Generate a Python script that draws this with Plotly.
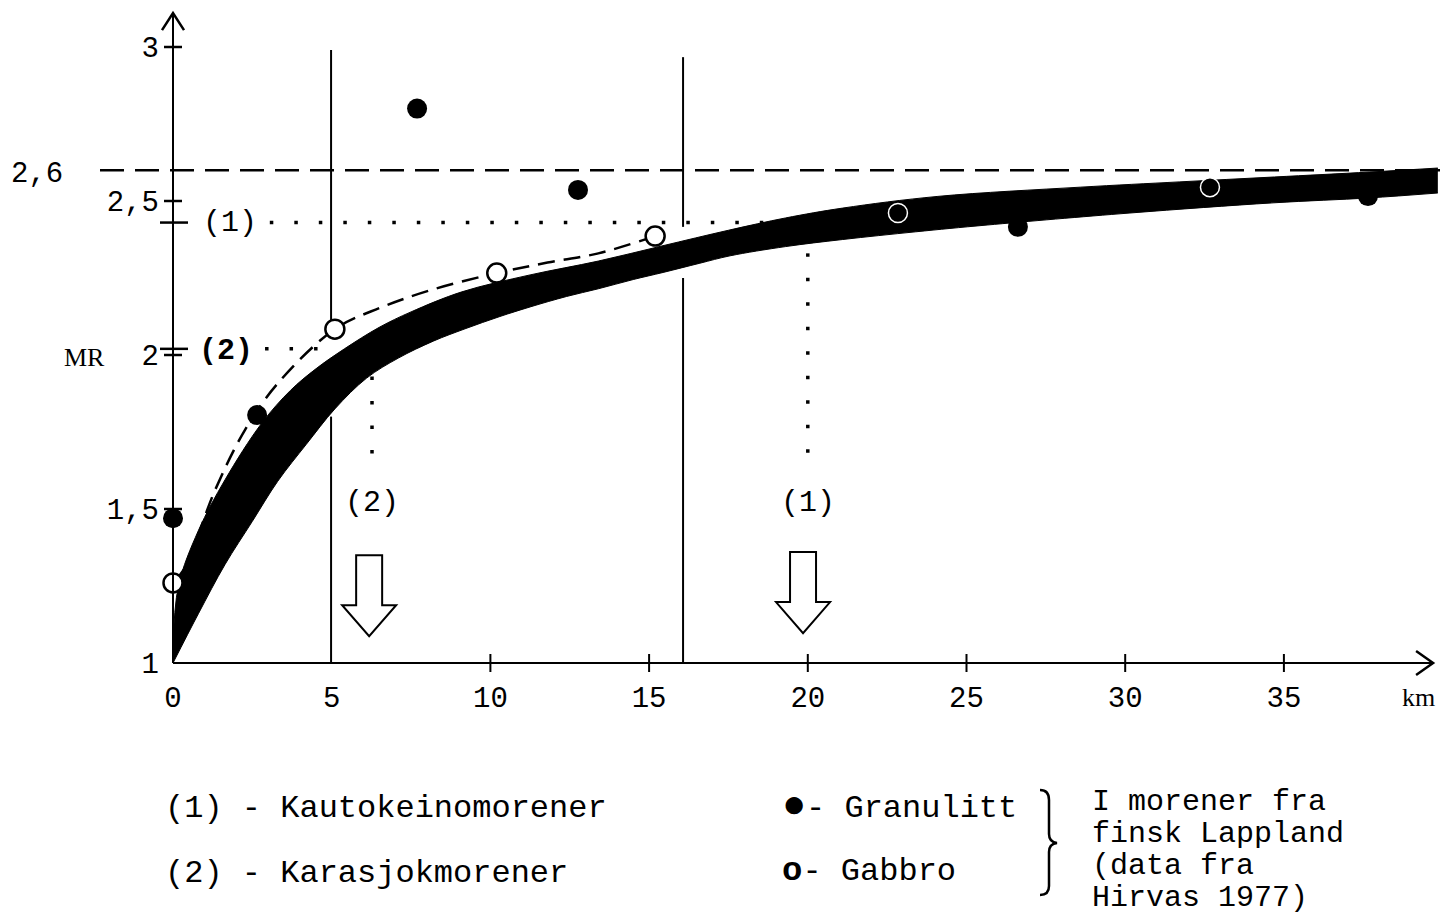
import numpy as np
import plotly.graph_objects as go

# ---------------- data ----------------
GRAN_X = [0.0, 2.65, 7.69, 12.76, 26.62, 37.65]
GRAN_Y = [1.47, 1.805, 2.80, 2.536, 2.416, 2.516]

GABB_X = [0.0, 5.10, 10.20, 15.19, 22.84, 32.67]
GABB_Y = [1.26, 2.084, 2.266, 2.386, 2.461, 2.545]

BAND_UPPER_X = [0, 0.17, 0.8, 1.64, 2.79, 3.7, 4.5, 5.4, 6.5, 7.5, 9.1, 11.25, 13.4,
                15.4, 17.5, 19.3, 21.1, 24.1, 28.6, 31.7, 34.7, 37.7, 39.85]
BAND_UPPER_Y = [1.04, 1.25, 1.43, 1.595, 1.778, 1.885, 1.955, 2.02, 2.09, 2.14, 2.205,
                2.26, 2.305, 2.354, 2.405, 2.445, 2.477, 2.515, 2.545, 2.562, 2.578,
                2.594, 2.607]
BAND_LOWER_X = [0, 0.8, 1.64, 2.5, 3.3, 4.2, 5.1, 6.1, 7.1, 8.2, 9.2, 10.3, 11.25, 12.4,
                13.4, 14.5, 15.44, 16.6, 17.55, 19.3, 21.1, 23.4, 25.65, 30.15, 34.66,
                37.68, 39.85]
BAND_LOWER_Y = [1.0, 1.16, 1.32, 1.46, 1.59, 1.71, 1.825, 1.925, 1.99, 2.045, 2.085,
                2.125, 2.156, 2.19, 2.215, 2.245, 2.268, 2.298, 2.322, 2.352, 2.375,
                2.40, 2.422, 2.461, 2.494, 2.510, 2.526]

DASH_X = [0.0, 0.38, 1.32, 2.27, 3.31, 5.10, 6.52, 8.1, 10.2, 11.8, 13.4, 15.19]
DASH_Y = [1.26, 1.31, 1.56, 1.757, 1.909, 2.084, 2.153, 2.21, 2.266, 2.30, 2.33, 2.386]

X_TICKS = [0, 5, 10, 15, 20, 25, 30, 35]
X_TICK_TEXT = ["0", "5", "10", "15", "20", "25", "30", "35"]
X_TICK_MARKS = [10, 15, 20, 25, 30, 35]
Y_TICKS = [1, 1.5, 2, 2.5, 3]
Y_TICK_TEXT = ["1", "1,5", "2", "2,5", "3"]
Y_TICK_MARKS = [1.5, 2.0, 2.5, 3.0]

LEVEL_MAX = 2.6          # dashed asymptote
LEVEL_1 = 2.43           # (1) Kautokeinomorener
LEVEL_2 = 2.02           # (2) Karasjokmorener
DIST_1 = 20.0            # km where (1) is reached
DIST_2 = 6.27            # km where (2) is reached
BOUNDARY_X = [4.98, 16.07]
BOUNDARY_SEGMENTS = [[(2.99, 2.11), (1.80, 1.0)], [(2.967, 2.416), (2.25, 1.0)]]
ARROW_X = [6.18, 19.85]
ARROW_TOP = [1.35, 1.36]
X_END, Y_END = 39.7, 3.11

LEGEND_LEFT = ["(1) - Kautokeinomorener", "(2) - Karasjokmorener"]
LEGEND_NOTE = ["I morener fra", "finsk Lappland", "(data fra", "Hirvas 1977)"]

# ---------------- geometry of the page ----------------
W, H, OFF = 1449, 915, 0
X0PX, KM_PX = 173, 31.74
Y1PX, MR_PX = 663, 308.0
xr0 = -(X0PX - OFF) / KM_PX
xr = [xr0, xr0 + W / KM_PX]
ytop = 1 + (Y1PX - OFF) / MR_PX
yr = [ytop - H / MR_PX, ytop]


def dx(px):
    return (px - X0PX) / KM_PX


def dy(py):
    return 1 + (Y1PX - py) / MR_PX


def sx(p):
    return p / KM_PX


def sy(p):
    return p / MR_PX


MONO = "Liberation Mono"
SERIF = "Liberation Serif"

fig = go.Figure()

# band: lower edge, then upper edge filled down to it (square ends)
fig.add_trace(go.Scatter(x=BAND_LOWER_X, y=BAND_LOWER_Y, mode="lines",
                         line=dict(color="black", width=1, shape="spline", smoothing=1.0),
                         hoverinfo="skip", showlegend=False))
fig.add_trace(go.Scatter(x=BAND_UPPER_X, y=BAND_UPPER_Y, mode="lines", fill="tonexty",
                         fillcolor="black",
                         line=dict(color="black", width=1, shape="spline", smoothing=1.0),
                         hoverinfo="skip", showlegend=False))

# dashed curve through gabbro points
fig.add_trace(go.Scatter(x=DASH_X, y=DASH_Y, mode="lines",
                         line=dict(color="black", width=2.5, dash="17px,9px", shape="spline"),
                         hoverinfo="skip", showlegend=False))

# gabbro: open circles; those lying inside the band look like white rings
up = np.interp(GABB_X, BAND_UPPER_X, BAND_UPPER_Y)
lo = np.interp(GABB_X, BAND_LOWER_X, BAND_LOWER_Y)
on_band = [(l - 0.01) <= y <= (u + 0.01) for y, u, l in zip(GABB_Y, up, lo)]
fig.add_trace(go.Scatter(x=GABB_X, y=GABB_Y, mode="markers", name="Gabbro",
                         marker=dict(size=19, symbol="circle",
                                     color=["black" if b else "white" for b in on_band],
                                     line=dict(color=["white" if b else "black" for b in on_band],
                                               width=[1.5 if b else 2.5 for b in on_band])),
                         cliponaxis=False, showlegend=False))

# granulitt: filled circles
fig.add_trace(go.Scatter(x=GRAN_X, y=GRAN_Y, mode="markers", name="Granulitt",
                         marker=dict(size=20, color="black", symbol="circle"),
                         cliponaxis=False, showlegend=False))

shapes = []
# axes with open arrow heads
shapes.append(dict(type="line", x0=0, y0=1, x1=X_END, y1=1, line=dict(color="black", width=2)))
shapes.append(dict(type="line", x0=0, y0=1, x1=0, y1=Y_END, line=dict(color="black", width=2)))
shapes.append(dict(type="path", line=dict(color="black", width=2.5),
                   path=f"M {X_END - sx(17)},{1 + sy(12)} L {X_END},1 L {X_END - sx(17)},{1 - sy(12)}"))
shapes.append(dict(type="path", line=dict(color="black", width=2.5),
                   path=f"M {-sx(11)},{Y_END - sy(17)} L 0,{Y_END} L {sx(11)},{Y_END - sy(17)}"))
# tick marks crossing the axes
for v in X_TICK_MARKS:
    shapes.append(dict(type="line", x0=v, x1=v, y0=1 - sy(9), y1=1 + sy(9),
                       line=dict(color="black", width=2)))
for v in Y_TICK_MARKS:
    shapes.append(dict(type="line", x0=-sx(9), x1=sx(9), y0=v, y1=v,
                       line=dict(color="black", width=2.5)))
for v in (LEVEL_1, LEVEL_2):
    shapes.append(dict(type="line", x0=-sx(13), x1=sx(15), y0=v, y1=v,
                       line=dict(color="black", width=2.5)))
# boundary verticals
for xv, segs in zip(BOUNDARY_X, BOUNDARY_SEGMENTS):
    for (ya, yb) in segs:
        shapes.append(dict(type="line", x0=xv, x1=xv, y0=ya, y1=yb,
                           line=dict(color="black", width=2)))
# dashed maximum level
shapes.append(dict(type="line", x0=dx(100), x1=dx(1440), y0=LEVEL_MAX, y1=LEVEL_MAX,
                   line=dict(color="black", width=2.5, dash="24px,11px")))
# dotted guide lines
dot = dict(color="black", width=3.5, dash="3.5px,21px")
shapes.append(dict(type="line", x0=3.05, x1=19.4, y0=LEVEL_1, y1=LEVEL_1, line=dot))
shapes.append(dict(type="line", x0=DIST_1, x1=DIST_1, y0=2.33, y1=1.63, line=dot))
shapes.append(dict(type="line", x0=2.9, x1=4.7, y0=LEVEL_2, y1=LEVEL_2, line=dot))
shapes.append(dict(type="line", x0=DIST_2, x1=DIST_2, y0=1.93, y1=1.62, line=dot))
# hollow down arrows
for ax_, at in zip(ARROW_X, ARROW_TOP):
    hs, hh, sl, hl = sx(13), sx(27), sy(50), sy(31)
    p = (f"M {ax_ - hs},{at} L {ax_ + hs},{at} L {ax_ + hs},{at - sl} L {ax_ + hh},{at - sl} "
         f"L {ax_},{at - sl - hl} L {ax_ - hh},{at - sl} L {ax_ - hs},{at - sl} Z")
    shapes.append(dict(type="path", path=p, fillcolor="white", line=dict(color="black", width=2)))
# brace of the legend
brace = (f"M {dx(1040)},{dy(790)} Q {dx(1049)},{dy(790)} {dx(1049)},{dy(800)} "
         f"L {dx(1049)},{dy(834)} Q {dx(1049)},{dy(842)} {dx(1057)},{dy(843)} "
         f"Q {dx(1049)},{dy(844)} {dx(1049)},{dy(852)} "
         f"L {dx(1049)},{dy(886)} Q {dx(1049)},{dy(895)} {dx(1040)},{dy(895)}")
shapes.append(dict(type="path", path=brace, line=dict(color="black", width=2.5)))

ann = []


def text(x, y, s, size=30, family=MONO, xanchor="center", height=None):
    a = dict(x=x, y=y, text=s, showarrow=False, xanchor=xanchor, yanchor="middle",
             font=dict(family=family, size=size, color="black"))
    if height:
        a["height"] = height
    ann.append(a)


text(dx(37), LEVEL_MAX - sy(4), "2,6", size=29)
text(dx(230), LEVEL_1, "(1)", size=30)
text(dx(226), LEVEL_2 - sy(2), "<b>(2)</b>", size=30)
text(dx(84), 2.0 - sy(2), "MR", size=26, family=SERIF)
text(dx(1418), dy(697), "km", size=26, family=SERIF)
text(DIST_2, dy(503), "(2)", size=30)
text(DIST_1, dy(503), "(1)", size=30)

# legend block
text(dx(163), dy(808), LEGEND_LEFT[0], size=32, xanchor="left")
text(dx(163), dy(873), LEGEND_LEFT[1], size=32, xanchor="left")
text(dx(780), dy(806), "<span style='font-size:40px'>●</span>- Granulitt", size=32, xanchor="left")
text(dx(780), dy(871), "<b><span style='font-size:34px'>o</span></b>- Gabbro", size=32, xanchor="left")
for i, line in enumerate(LEGEND_NOTE):
    text(dx(1090), dy(802 + 32 * i), line, size=30, xanchor="left", height=30)

fig.update_layout(
    width=W, height=H, margin=dict(l=0, r=0, t=0, b=0),
    paper_bgcolor="white", plot_bgcolor="white",
    shapes=shapes, annotations=ann, showlegend=False,
    xaxis=dict(range=xr, domain=[0, 1], anchor="free", position=(OFF + H - Y1PX) / H,
               showline=False, showgrid=False, zeroline=False, ticks="",
               tickmode="array", tickvals=X_TICKS, ticktext=X_TICK_TEXT,
               ticklabelstandoff=14, tickfont=dict(family=MONO, size=29, color="black")),
    yaxis=dict(range=yr, domain=[0, 1], anchor="free", position=(X0PX - OFF) / W,
               showline=False, showgrid=False, zeroline=False, ticks="",
               tickmode="array", tickvals=Y_TICKS, ticktext=Y_TICK_TEXT,
               ticklabelstandoff=14, tickfont=dict(family=MONO, size=29, color="black")),
)

fig.write_html("out.html", config={"displayModeBar": False},
               post_script="document.body.style.margin='0';document.body.style.overflow='hidden';")
